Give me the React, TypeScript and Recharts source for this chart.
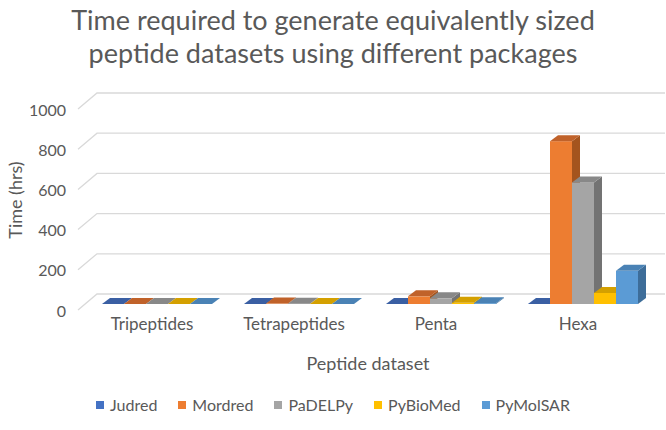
import React from "react"
import { Bar, BarChart, CartesianGrid, XAxis, YAxis } from "recharts"

const categories = ["Tripeptides", "Tetrapeptides", "Penta", "Hexa"]
const seriesNames = ["Judred", "Mordred", "PaDELPy", "PyBioMed", "PyMolSAR"]
const judred = [0.01, 0.02, 0.1, 0.5]
const mordred = [0.3, 2, 38, 810]
const padelpy = [0.2, 1.5, 28, 605]
const pybiomed = [0.05, 0.4, 6, 55]
const pymolsar = [0.05, 0.3, 4, 165]
const yTicks = [0, 200, 400, 600, 800, 1000]

const colors = ["#4472C4", "#ED7D31", "#A5A5A5", "#FFC000", "#5B9BD5"]
const topColors = ["#3a5fa3", "#c0622a", "#888888", "#d4a000", "#4a82b5"]
const sideColors = ["#2f4d86", "#a4541e", "#737373", "#b38700", "#3d6d99"]

const data = categories.map((name, i) => ({
    name,
    Judred: judred[i],
    Mordred: mordred[i],
    PaDELPy: padelpy[i],
    PyBioMed: pybiomed[i],
    PyMolSAR: pymolsar[i],
}))

const FONT = "Lato, 'Open Sans', sans-serif"
const TEXT = "#595959"

// 3d offsets relative to bar front plane
const BAR_DX = 8
const BAR_DY = -6
const BACK_DX = 12
const BACK_DY = -10
const FRONT_DX = -7
const FRONT_DY = 6

function make3dBar(idx: number) {
    return (props: any) => {
        const { x, y, width, height } = props
        if (x == null || y == null) return null
        const h = Math.max(height, 0)
        const top = `${x},${y} ${x + BAR_DX},${y + BAR_DY} ${x + width + BAR_DX},${y + BAR_DY} ${x + width},${y}`
        const side = `${x + width},${y} ${x + width + BAR_DX},${y + BAR_DY} ${x + width + BAR_DX},${y + h + BAR_DY} ${x + width},${y + h}`
        return (
            <g>
                <polygon points={side} fill={sideColors[idx]} />
                <rect x={x} y={y} width={width} height={h} fill={colors[idx]} />
                <polygon points={top} fill={topColors[idx]} />
            </g>
        )
    }
}

function GridLine(props: any) {
    const { x1, y1, x2, y2 } = props
    return (
        <polyline
            points={`${x1 + FRONT_DX},${y1 + FRONT_DY} ${x1 + BACK_DX},${y1 + BACK_DY} ${x2 + BACK_DX},${y2 + BACK_DY}`}
            fill="none"
            stroke="#d9d9d9"
            strokeWidth={1.3}
        />
    )
}

function YTick(props: any) {
    const { x, y, payload } = props
    return (
        <text x={x} y={y + FRONT_DY} textAnchor="end" dominantBaseline="central" fill={TEXT} fontSize={16} fontFamily={FONT}>
            {payload.value}
        </text>
    )
}

function XTick(props: any) {
    const { x, y, payload } = props
    return (
        <text x={x - 4} y={y + 24} textAnchor="middle" fill={TEXT} fontSize={17} fontFamily={FONT}>
            {payload.value}
        </text>
    )
}

export default function App() {
    return (
        <div style={{ position: "absolute", left: 0, top: 0, width: 666, height: 430, background: "#fff", fontFamily: FONT }}>
            <div style={{ position: "absolute", top: 3, left: 0, width: 666, textAlign: "center", color: TEXT, fontSize: 27, lineHeight: "33px" }}>
                Time required to generate equivalently sized
                <br />
                peptide datasets using different packages
            </div>
            <BarChart
                width={666}
                height={430}
                data={data}
                margin={{ top: 103, right: 13, left: 0, bottom: 96 }}
                barCategoryGap={17}
                barGap={0}
            >
                <CartesianGrid vertical={false} horizontal={(p: any) => <GridLine key={p.key} {...p} />} />
                <YAxis
                    width={85}
                    domain={[0, 1000]}
                    ticks={yTicks}
                    axisLine={false}
                    tickLine={false}
                    tickSize={0}
                    tickMargin={19}
                    tick={<YTick />}
                />
                <XAxis dataKey="name" height={30} axisLine={false} tickLine={false} tickSize={0} tick={<XTick />} />
                {seriesNames.map((s, i) => (
                    <Bar key={s} dataKey={s} fill={colors[i]} shape={make3dBar(i)} isAnimationActive={false} />
                ))}
            </BarChart>
            <div
                style={{
                    position: "absolute",
                    left: 0,
                    top: 180,
                    width: 30,
                    height: 40,
                    display: "flex",
                    alignItems: "center",
                    justifyContent: "center",
                }}
            >
                <div style={{ transform: "rotate(-90deg)", whiteSpace: "nowrap", color: TEXT, fontSize: 18 }}>Time (hrs)</div>
            </div>
            <div style={{ position: "absolute", top: 352, left: 268, width: 200, textAlign: "center", color: TEXT, fontSize: 18 }}>
                Peptide dataset
            </div>
            <div style={{ position: "absolute", top: 395, left: 0, width: 666, display: "flex", justifyContent: "center", gap: 21, color: TEXT, fontSize: 16 }}>
                {seriesNames.map((s, i) => (
                    <div key={s} style={{ display: "flex", alignItems: "center", gap: 6 }}>
                        <span style={{ width: 8, height: 8, background: colors[i], display: "inline-block" }} />
                        <span>{s}</span>
                    </div>
                ))}
            </div>
        </div>
    )
}
